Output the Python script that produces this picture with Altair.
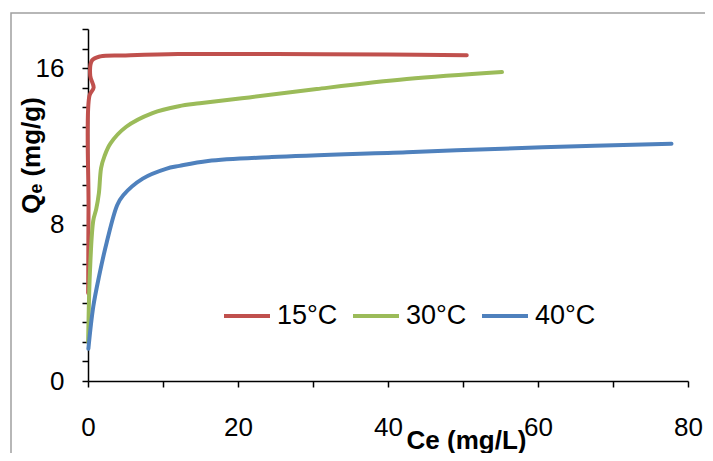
import altair as alt
import pandas as pd

# 15°C
ce_15 = [0.02, 0.07, 0.2, 0.75, 0.3, 0.55, 1.65, 5, 12, 25, 40, 50.5]
qe_15 = [4.5, 8.9, 14.6, 15.0, 15.6, 16.4, 16.6, 16.65, 16.72, 16.72, 16.7, 16.66]
# 30°C
ce_30 = [0.02, 0.25, 0.7, 1.1, 1.45, 1.75, 2.2, 3.0, 5.1, 8.6, 12.1, 14.9, 21.5, 30.5, 42.5, 55.2]
qe_30 = [2.0, 5.5, 8.2, 8.8, 9.6, 10.9, 11.5, 12.15, 13.0, 13.7, 14.05, 14.2, 14.5, 14.93, 15.44, 15.8]
# 40°C
ce_40 = [0.05, 0.7, 1.5, 2.5, 3.9, 4.7, 7.3, 10.4, 12.2, 16.0, 24.5, 42.5, 60.6, 77.8]
qe_40 = [1.65, 3.8, 5.4, 7.1, 9.0, 9.5, 10.35, 10.85, 11.0, 11.25, 11.45, 11.7, 11.95, 12.13]

series = ["15°C", "30°C", "40°C"]
colors = ["#C0504D", "#9BBB59", "#4F81BD"]

rows = []
for name, xs, ys in zip(series, [ce_15, ce_30, ce_40], [qe_15, qe_30, qe_40]):
    for i, (x, y) in enumerate(zip(xs, ys)):
        rows.append({"series": name, "Ce": x, "Qe": y, "order": i})
df = pd.DataFrame(rows)

FONT = "Liberation Sans"

lines = alt.Chart(df).mark_line(
    strokeWidth=4, strokeCap="round", strokeJoin="round", interpolate="catmull-rom"
).encode(
    x=alt.X("Ce:Q",
            scale=alt.Scale(domain=[0, 80], nice=False),
            axis=alt.Axis(
                values=list(range(0, 81, 10)),
                labelExpr="datum.value % 20 == 0 ? datum.label : ''",
                title="Ce (mg/L)",
                titleX=378, titleY=67, titleAlign="center", titleBaseline="alphabetic",
                labelPadding=27,
            )),
    y=alt.Y("Qe:Q",
            scale=alt.Scale(domain=[0, 18], nice=False),
            axis=alt.Axis(
                values=list(range(0, 19)),
                labelExpr="datum.value % 8 == 0 ? datum.label : ''",
                title="Qₑ (mg/g)",
                titleX=-49, titleY=126, titleAlign="center", titleBaseline="alphabetic",
                titleAngle=270,
                labelPadding=18,
            )),
    color=alt.Color("series:N",
                    scale=alt.Scale(domain=series, range=colors),
                    legend=alt.Legend(
                        title=None, orient="none", direction="horizontal",
                        legendX=134, legendY=262,
                        symbolType="stroke", symbolSize=2116, symbolStrokeWidth=4,
                        labelFontSize=27, labelFont=FONT, labelOffset=5,
                        columnPadding=7, padding=0,
                    )),
    order="order:Q",
)

frame_df = pd.DataFrame({"k": [0]})
frame = alt.Chart(frame_df).mark_rect(
    filled=False, stroke="#A0A0A0", strokeWidth=1.5, clip=False
).encode(
    x=alt.value(-77), x2=alt.value(720), y=alt.value(-16), y2=alt.value(520)
)

chart = alt.layer(frame, lines).properties(
    width=600, height=352,
    autosize=alt.AutoSizeParams(type="none"),
    padding={"left": 80, "top": 21, "right": 17, "bottom": 72},
).configure_view(stroke=None).configure_axis(
    grid=False,
    domainColor="black", domainWidth=1.5,
    tickColor="black", tickWidth=1.5, tickSize=6,
    labelFont=FONT, labelFontSize=26, labelColor="black",
    labelOverlap=False, labelFlush=False,
    titleFont=FONT, titleFontSize=26, titleFontWeight="bold", titleColor="black",
)

chart.save("out.html", embed_options={"renderer": "svg", "actions": False})
